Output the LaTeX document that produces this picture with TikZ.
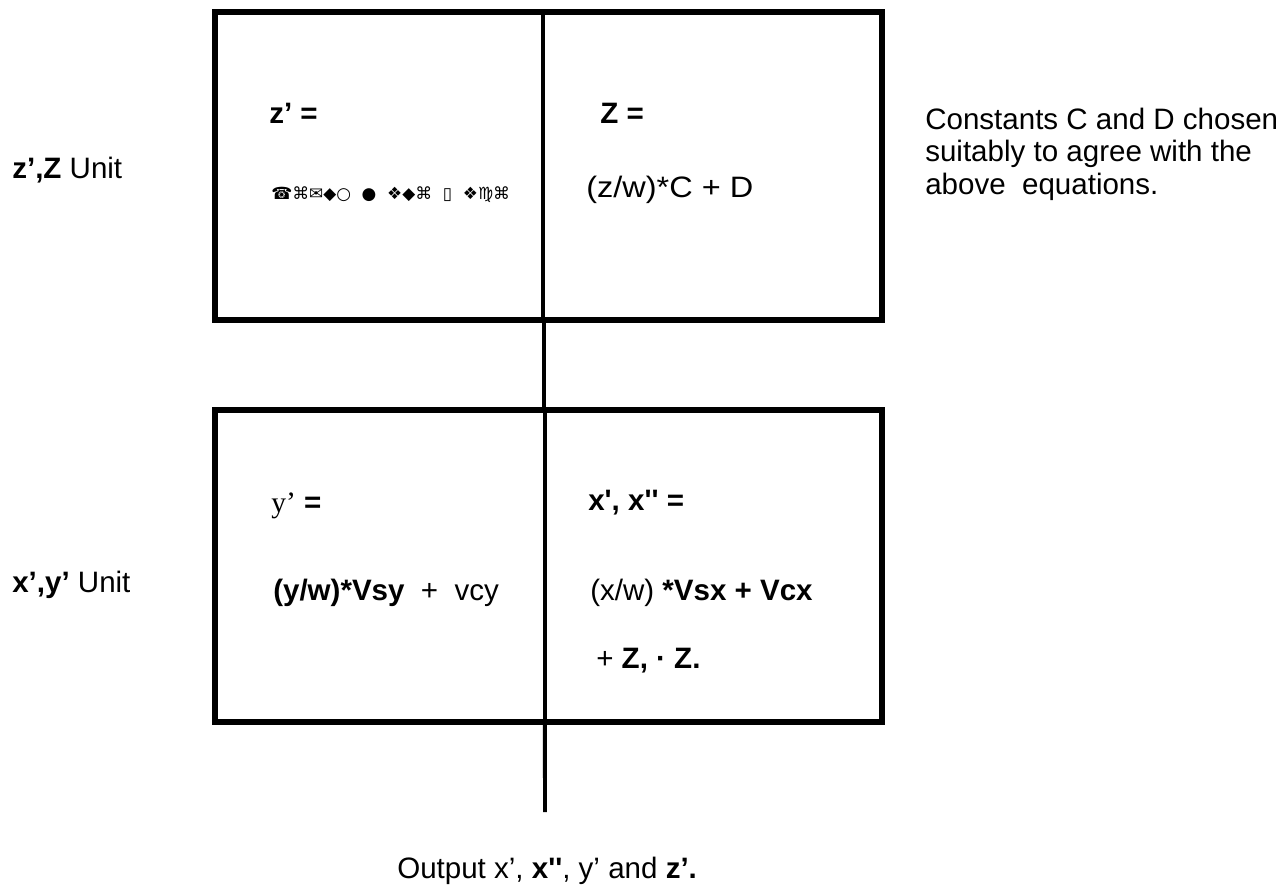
\documentclass[tikz,border=0pt]{standalone}
\usepackage{fontspec}
\setmainfont{Liberation Sans}
\newfontfamily\tmsfont{Liberation Serif}
\newfontfamily\symfont{DejaVu Sans}
\newfontfamily\rawsans[Ligatures=TeXOff]{Liberation Sans}
\begin{document}
\begin{tikzpicture}[x=0.025cm, y=-0.025cm,
        unitbox/.style={draw, line width=4.2pt, minimum width=16.675cm, inner sep=0pt, outer sep=0pt},
        bus/.style={line width=2.8pt},
        lbl/.style={anchor=base west, inner sep=0pt, font=\fontsize{21}{23}\selectfont}]
        \useasboundingbox (0,0) rectangle (1282,890);
        % the two units
        \node (zbox) [unitbox, minimum height=7.7cm] at (548.5,166) {};
        \node (xybox) [unitbox, minimum height=7.8cm] at (548.5,566) {};
        \draw [bus] ([xshift=-1.4mm]zbox.north)--([xshift=-1.4mm]zbox.south);
        \draw [bus] ([xshift=-1.1mm]zbox.south)--([xshift=-1.1mm]xybox.north);
        \draw [bus] ([xshift=-0.9mm]xybox.north)--([xshift=-0.9mm]xybox.south);
        \coordinate (outend) at (545,812);
        \draw [bus] ([xshift=-0.9mm]xybox.south)--(outend);
        % z',Z unit
        \node (zlbl) [lbl] at (12,178) {\textbf{z’,Z} Unit};
        \node (zeq) [lbl] at (269,123) {\textbf{z’ =}};
        \node (zgarb) [lbl, font=\symfont\fontsize{12}{14}\selectfont] at (271,199) {☎⌘✉◆○ \ ● \ ❖◆⌘ \ ▯ \ ❖♍⌘};
        \node (Zeq) [lbl] at (600,123) {\textbf{Z =}};
        \node (Zrhs) [lbl, xscale=1.1] at (586,197) {(z/w)*C + D};
        \node (note) [lbl, align=left] at (925,194) {Constants C and D chosen\\suitably to agree with the\\above\ \ equations.};
        % x',y' unit
        \node (xylbl) [lbl] at (12,592) {\textbf{x’,y’} Unit};
        \node (yeq) [lbl] at (271,512) {{\tmsfont y’} \textbf{=}};
        \node (yrhs) [lbl] at (273,600) {\textbf{(y/w)*Vsy}\ \ +\ \ vcy};
        \node (xeq) [lbl] at (588,510) {{\rawsans\bfseries x', x'' =}};
        \node (xrhs) [lbl] at (590,600) {(x/w) \textbf{*Vsx + Vcx}};
        \node (xrhs2) [lbl] at (596,668) {+ \textbf{Z, · Z.}};
        % output
        \node (outlbl) [lbl] at (397,878) {Output x’, {\rawsans\bfseries x''}, y’ and \textbf{z’.}};
\end{tikzpicture}
\end{document}
